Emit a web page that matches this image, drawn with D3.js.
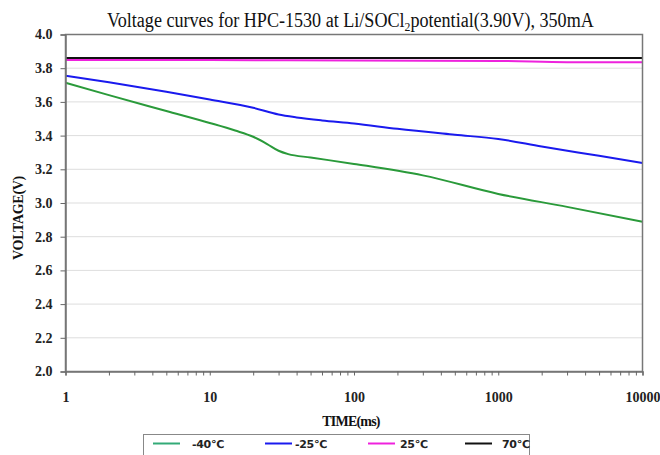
<!DOCTYPE html>
<html><head><meta charset="utf-8">
<script src="https://cdn.jsdelivr.net/npm/d3@7"></script>
<style>body{margin:0;background:#fff}svg{display:block}</style>
</head><body>
<svg id="c" width="660" height="455"></svg>
<script>
const titleText = "Voltage curves for HPC-1530 at Li/SOCl";
const seriesNames = ["-40\u2103", "-25\u2103", "25\u2103", "70\u2103"];
const colors = ["#2a9a3a", "#1a1aee", "#ee22dd", "#111111"];
const yTicks = [2.0, 2.2, 2.4, 2.6, 2.8, 3.0, 3.2, 3.4, 3.6, 3.8, 4.0];
const xTicks = [1, 10, 100, 1000, 10000];

const tM40 = [1, 2, 5, 10, 15, 20, 25, 30, 35, 50, 100, 300, 1000, 3000, 10000];
const vM40 = [3.714, 3.64, 3.546, 3.475, 3.43, 3.393, 3.35, 3.31, 3.29, 3.27, 3.232, 3.164, 3.054, 2.977, 2.889];
const tM25 = [1, 2, 5, 10, 20, 30, 40, 60, 100, 200, 500, 1000, 2000, 5000, 10000];
const vM25 = [3.755, 3.716, 3.66, 3.614, 3.565, 3.525, 3.508, 3.49, 3.472, 3.44, 3.405, 3.38, 3.335, 3.28, 3.238];
const tP25 = [1, 10, 100, 1000, 3000, 10000];
const vP25 = [3.849, 3.848, 3.846, 3.843, 3.836, 3.835];
const tP70 = [1, 10, 100, 1000, 10000];
const vP70 = [3.861, 3.861, 3.861, 3.861, 3.861];

const series = [[tM40, vM40], [tM25, vM25], [tP25, vP25], [tP70, vP70]];

const svg = d3.select("#c");
const L = 65.5, R = 642.5, T = 34.5, B = 371.5;
const x = d3.scaleLog().domain([1, 10000]).range([L, R]);
const y = d3.scaleLinear().domain([2.0, 4.0]).range([B, T]);

// gridlines
svg.append("g").selectAll("line").data(yTicks.filter(v => v > 2.0 && v < 4.0)).join("line")
  .attr("x1", L).attr("x2", R).attr("y1", d => y(d)).attr("y2", d => y(d))
  .attr("stroke", "#bbb").attr("stroke-width", 1).attr("stroke-dasharray", "1,1");

// lines
const line = d3.line().x(d => x(d[0])).y(d => y(d[1])).curve(d3.curveMonotoneX);
series.forEach((s, i) => {
  const pts = s[0].map((t, j) => [t, s[1][j]]);
  svg.append("path").datum(pts).attr("d", line).attr("fill", "none")
    .attr("stroke", colors[i]).attr("stroke-width", 2);
});

// frame
svg.append("rect").attr("x", L).attr("y", T).attr("width", R - L).attr("height", B - T)
  .attr("fill", "none").attr("stroke", "#777").attr("stroke-width", 1.5);

// axes
const yAxis = svg.append("g").attr("transform", `translate(${L},0)`)
  .call(d3.axisLeft(y).tickValues(yTicks).tickFormat(d3.format(".1f")).tickSize(5).tickPadding(8));
const minor = [];
for (let e = 0; e < 4; e++) for (let k = 1; k < 10; k++) minor.push(k * Math.pow(10, e));
minor.push(10000);
const xAxis = svg.append("g").attr("transform", `translate(0,${B})`)
  .call(d3.axisBottom(x).tickValues(minor).tickFormat(d => xTicks.includes(d) ? d3.format("d")(d) : "").tickSize(4).tickPadding(17));
[yAxis, xAxis].forEach(a => {
  a.select(".domain").attr("stroke", "#777").attr("stroke-width", 1.5);
  a.selectAll(".tick line").attr("stroke", "#666");
  a.selectAll("text").attr("font-family", "Liberation Serif").attr("font-weight", "bold")
    .attr("font-size", 14).attr("fill", "#222");
});

// title
const title = svg.append("text").attr("x", 107).attr("y", 27)
  .attr("font-family", "Liberation Serif").attr("font-size", 20).attr("fill", "#111");
title.append("tspan").text(titleText);
title.append("tspan").text("2").attr("font-size", 13).attr("dy", 4);
title.append("tspan").text("potential(3.90V), 350mA").attr("dy", -4);
const tw = title.node().getComputedTextLength();
title.attr("transform", `translate(107,0) scale(${487 / tw},1) translate(-107,0)`);

// axis titles
svg.append("text").attr("transform", "translate(23,218) rotate(-90)")
  .attr("text-anchor", "middle").attr("font-family", "Liberation Serif").attr("font-weight", "bold")
  .attr("font-size", 14).attr("letter-spacing", -0.3).attr("fill", "#111").text("VOLTAGE(V)");
svg.append("text").attr("x", 351).attr("y", 426)
  .attr("text-anchor", "middle").attr("font-family", "Liberation Serif").attr("font-weight", "bold")
  .attr("font-size", 14).attr("letter-spacing", -0.8).attr("fill", "#111").text("TIME(ms)");

// legend
svg.append("rect").attr("x", 143.5).attr("y", 434.5).attr("width", 386).attr("height", 25)
  .attr("fill", "#fff").attr("stroke", "#888").attr("stroke-width", 1);
const lx = [153, 265, 368, 465];
const tx = [192, 295, 400, 502];
const legendColors = ["#33aa77", "#1a1aee", "#ee22dd", "#111111"];
seriesNames.forEach((n, i) => {
  svg.append("line").attr("x1", lx[i]).attr("x2", lx[i] + 27).attr("y1", 443.5).attr("y2", 443.5)
    .attr("stroke", legendColors[i]).attr("stroke-width", 2);
  svg.append("text").attr("x", tx[i]).attr("y", 448)
    .attr("font-family", "DejaVu Sans").attr("font-weight", "bold").attr("font-size", 11)
    .attr("letter-spacing", -0.3).attr("fill", "#222").text(n);
});
</script>
</body></html>
